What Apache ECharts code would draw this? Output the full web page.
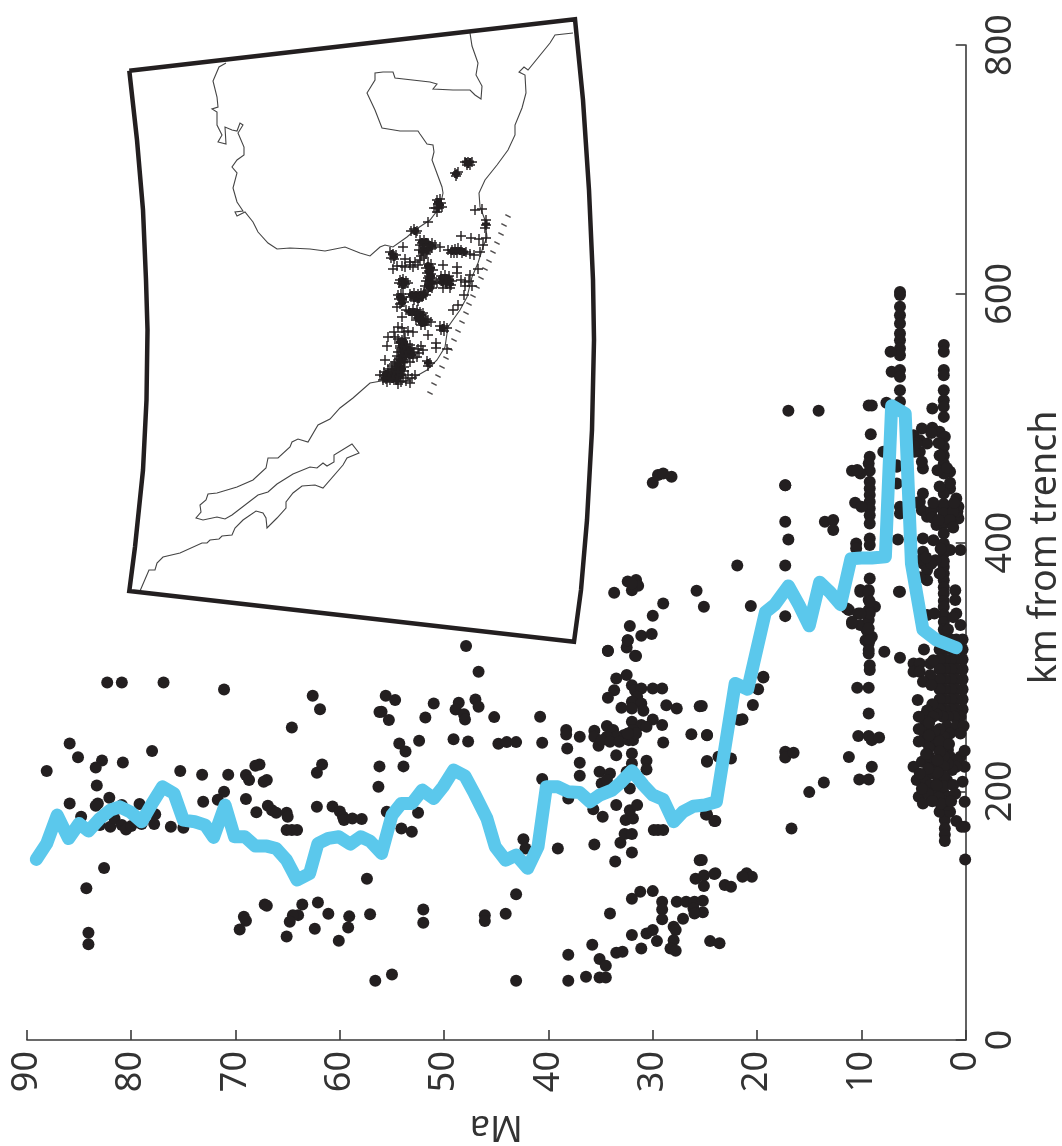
<!DOCTYPE html>
<html><head><meta charset="utf-8">
<style>html,body{margin:0;padding:0;background:#fff}#c{width:1062px;height:1146px}</style>
<script src="https://cdn.jsdelivr.net/npm/echarts@6/dist/echarts.min.js"></script>
</head><body><div id="c"></div>
<script>
// [Ma, km from trench]
const xTitle='Ma', yTitle='km from trench';
const dotsOld=[[82.3,287.5],[80.9,287.5],[76.9,287.5],[71.1,281.8],[62.6,276.8],[61.9,266],[64.6,251.3],[85.9,238.4],[85.1,227.4],[82.8,224.8],[83.4,219.1],[80.8,223.2],[78,232.3],[88.1,216.2],[75.3,216.2],[73.2,213.2],[70.7,213.2],[67.7,221.6],[68.1,220.5],[61.7,221.6],[62.2,214.9],[69,213],[68.7,209],[67,209],[67.3,207.6],[83.3,204.7],[71.1,199.6],[82.1,194.8],[71.7,193.2],[69,193.7],[85.9,190.2],[83.2,190.2],[83.4,188.3],[73.1,191.5],[79.2,189.7],[80.9,188.9],[66.9,188.3],[62.2,187.5],[60.7,187.8],[66.5,184.8],[66.1,182.7],[65.1,182.7],[65,179.5],[68,183.2],[60,183.8],[59.7,179.5],[59.6,176.8],[58.8,178.1],[57.9,177.6],[84.8,179.5],[77.7,181.6],[82,171.4],[81.6,178.1],[80.9,172.8],[80.5,169.3],[80,172],[79,173.6],[77.8,173.6],[76.2,171.4],[75,170.6],[83,172.8],[65.1,168.8],[64.6,168.8],[64.1,168.8],[82.6,138.2],[84.3,122.1],[57.4,129.6],[84.1,86.2],[84.1,76.9],[67.2,109],[67,108],[63.6,109],[62.1,110.6],[61.1,101.5],[64,100.4],[64.5,100.4],[64.8,95.1],[69.2,99.1],[69,95.9],[69.6,88.9],[59.1,99.4],[57.1,101.2],[59.2,90.5],[62.4,89.5],[65.1,83.3],[60.1,79.8],[56.6,47.6],[56.2,263.7],[56.2,220],[56.3,203.6]];
const dotsMid=[[47.9,316.7],[46.7,296],[55.6,276.8],[54.7,273.3],[56,263.9],[55.3,257.2],[51.8,259.3],[51,270.6],[48.6,271.1],[48.9,265.8],[48.1,262],[48,257.7],[47,273.8],[46.7,267.9],[45.2,259.6],[52.4,240.6],[54.3,238.4],[53.7,232],[49.1,241.9],[47.7,240],[44.8,238.2],[44,239.5],[43.1,239.5],[40.8,259.9],[40.6,239],[53.9,220],[55.5,183.5],[52.5,182.7],[54.1,170.1],[53.1,167.4],[42.4,161.5],[42.2,154],[40.6,209.8],[39.1,154],[43.1,117.1],[44.1,101.5],[46.1,100.4],[46.1,95.6],[52,105],[52,94.3],[55,52.7],[43.1,47.6],[38.1,47.6],[36.4,50.9],[35.1,50.3],[34.5,50.3],[38.1,68.5],[35.8,76.6],[35.1,65.1],[34.5,59.7],[33.5,70.2],[32.9,71],[32,84.4],[31.1,73.6],[30.6,85.7],[30,88.4],[29.6,79.5],[34.1,101.8],[32,113.6],[31.2,119.2],[30,119.7],[29.1,111.2],[29.1,105],[29.1,97],[27.7,111.2],[26.8,111.2],[26,111.2],[25.2,112],[26.1,105.8],[25.2,102.8],[26,101.8],[27.1,97.5],[28,91.1],[27.8,88.4],[28,80.3],[28.3,73.6],[27.8,71.8],[24.5,79.5],[23.6,77.7],[25.5,144.6],[25.9,129.6],[25.1,132.3],[25.1,123.8],[24.1,133.4],[23.1,124.6],[22.5,123.2],[33.6,143.6],[32,150.8],[35.6,157.2],[33.1,158.6],[32.7,165.6],[32,165.6],[29.9,168.8],[29.5,168.8],[29,168.8],[32.6,176.8],[31.9,178.1],[32.2,184.8],[31.5,188.9],[33.5,188.9],[35.7,185.6],[34.8,179.5],[38.1,194.2],[37,212.4],[37,222.9],[38.2,234.4],[38.3,249.2],[38.3,245.7],[37,243.8],[35.6,248.6],[35.6,243.8],[35.2,236.6],[34.4,252.4],[35.1,215.7],[34.9,206.3],[34.1,214.3],[34.4,209],[33.5,229],[32,230.4],[32,222.4],[30.6,224.5],[30.6,217.5],[32.5,215.7],[32.2,202.3],[29,239.2],[29.1,253.2],[30,257.7],[28.7,269.2],[27.7,266.6],[25.5,268.4],[26.3,245.9],[24.8,245.1],[24.8,223.7],[22.5,226.4],[23.7,227.7],[24.8,181.4],[24,176],[34.3,312.7],[32.5,315.6],[31.7,308.9],[32.4,321.5],[33.5,290.7],[32.5,293.4],[33.7,281.3],[34.3,275.1],[32,285.3],[31.7,281.3],[31.1,282.6],[30,282.6],[29.1,282.6],[31.5,276],[32,271.9],[31.1,270.6],[33,267.1],[32,266.6],[30.9,264.7],[32,255.9],[31.1,253.2],[30.6,251.8],[31.9,249.2],[32.8,245.1],[33.8,249.2],[33.5,243.8],[34.4,243.8],[34.9,241.1],[34.1,239.8],[33.2,239.8],[32.3,241.1],[31.9,241.1],[31.6,246.5],[32.4,246.5],[21.7,257.2]];
const dotsYoung=[[30,448],[29.5,454.2],[29,455.5],[28.2,452.8],[17.3,446.1],[17.3,416.7],[17,402.4],[21.9,381.6],[17.3,381.6],[25.8,361.2],[25.1,348.3],[20.6,348.9],[17.3,340.8],[29,351],[30,341.1],[33.7,359.6],[32.4,368.7],[31.6,369.8],[31.4,365.2],[32,361.7],[32,367],[32.2,332.8],[31.1,325],[30.1,326.4],[32.4,321.5],[34.3,312.9],[31.6,308.7],[19.4,292],[25.3,268.5],[24.8,245.2],[24.8,224.3],[21.4,257.8],[20.4,269.3],[19.9,282.1],[19.4,291.5],[24.9,181.4],[24.1,176],[25.3,144.7],[24,134],[21,134],[20.5,131.3],[21.4,131.3],[16.7,170.1],[15,199.3],[13.6,207.1],[17.3,231.7],[17.3,227.2],[16.5,231],[11.2,227.5],[9,219.7],[10.2,209.5],[9.3,209.5],[10.3,244.4],[9.3,244.4],[9,241.1],[8.3,243.3],[9.3,262.6],[10.4,283.2],[9.3,283.2],[9.2,297.4],[9.2,301.4],[7.8,312.1],[6.3,307.3],[4,314],[4.6,273.3],[17,505.9],[14.1,505.9],[17.3,446.1],[13.5,416.6],[12.7,418],[12.7,410],[11.9,350]];
const dotsColumns=[[9.3,310.8],[9.3,318.8],[9,324.2],[9.6,321.5],[9.5,329.6],[10.1,333.6],[10.9,334.9],[10.1,361.8],[6.3,360.4],[11.2,345.7],[10.9,336.3],[10.3,343],[8.7,348.4],[9.3,361.8],[9.3,353.7],[9.3,345.7],[9.3,337.6],[9.3,331],[9.2,321.6],[9.3,313.5],[6.3,601.5],[6.3,599],[6.3,589.5],[6.3,582.8],[6.3,576],[6.3,568],[6.3,562.7],[6.3,556],[6.3,550.6],[7.2,553.3],[7.1,537.2],[6.3,538.6],[6.3,533.2],[6.3,522.5],[7.6,512.3],[6.3,513.1],[2.1,558.7],[2.1,553.3],[2.1,538.6],[2.1,534.5],[2.1,522.5],[2.1,514.4],[2.1,509.1],[2.1,501],[3.2,507.7],[9.3,510.2],[9,510.2],[9.1,487.1],[4.2,491.7],[3.2,492.2],[2.5,489],[2,485],[5,486.3],[4.4,482.3],[4.4,472.9],[4.9,472.9],[3.7,479.6],[2.1,477],[2.1,470],[2.1,463.5],[1.5,456.8],[2.1,455.5],[4.1,459.5],[7.9,472.9],[6.6,462.2],[9.2,468.9],[9.3,463.5],[9.2,457.6],[10.1,455.5],[10.9,457.6],[10.4,458.2],[9.2,448.8],[9.2,443.4],[9.2,438.1],[9.2,432.7],[9.2,427.4],[9.2,422],[9.2,415.3],[9.2,403.2],[9.2,397.9],[10.6,431.9],[10,428.7],[6.6,447.5],[6.6,460.9],[6.3,428.7],[6.3,423.3],[10.5,399.2],[10.5,395.2],[6.5,402.4],[4.1,439.4],[4.4,432.7],[4.2,426],[3.7,420.7],[2.8,414],[2.8,428.7],[2.1,426],[1.5,428.7],[0.9,435.4],[0.7,428.7],[0.7,419.3],[1.5,443.4],[2.1,439.4],[2.1,431],[2.1,415],[2.1,423.3],[2.1,407.3],[2.1,399.2],[2.1,391.2],[2.1,380.5],[2.1,385],[2.1,375],[2.1,369.7],[2.1,364],[2.1,359],[2.1,353],[2.1,348.3],[2.1,342],[2.1,336],[2.1,330],[4.1,403.2],[3.1,401.9],[1.5,393.9],[0.5,393.9],[4.1,392.5],[4.1,383.1],[3.7,377.8],[3.7,369.7],[2.9,385.8],[2.5,375.1],[1,361.7],[1,353.7],[0.9,343],[9.2,371.1],[10.1,360.4],[9.3,360.4],[9.2,352.3],[9.2,343],[6.4,360.4],[11.4,347],[10.1,343],[3.7,341.7],[3,343],[0.5,333.6],[0.8,425],[1.2,425],[3.3,425],[3.2,420],[1.1,432],[4.7,432],[3.1,432],[2.6,418],[1.5,418],[1.2,412],[4.7,480],[4.2,465],[3.3,488],[5,478],[2.6,480],[2.5,470],[2.7,458],[1.8,460],[1.5,448],[2.5,445],[4.3,386],[3.3,383],[3.8,388],[4.4,372],[2.4,395],[1.7,330],[1.2,340]];
const dotsDense=[[0.3,322],[0.9,322],[1.4,322],[2,322],[2.5,322],[0.3,314],[0.9,314],[1.4,314],[2,314],[2.5,314],[0.3,306],[0.9,306],[1.4,306],[2,306],[2.5,306],[0.3,298],[0.9,298],[1.4,298],[2,298],[2.5,298],[0.3,290],[0.9,290],[1.4,290],[2,290],[2.5,290],[0.3,282],[0.9,282],[1.4,282],[2,282],[2.5,282],[0.3,274],[0.9,274],[1.4,274],[2,274],[2.5,274],[0.3,266],[0.9,266],[1.4,266],[2,266],[2.5,266],[0.5,260],[1.1,260],[1.7,260],[2.2,260],[2.8,262],[5,302.8],[4.4,302.8],[3.4,302.8],[3.1,305.4],[5,296.1],[4.4,296.1],[3.4,293.4],[4.1,288],[3.3,285.4],[3.2,270],[3.7,265],[3.9,261],[3.9,256],[3.9,250.5],[3.9,245],[3.9,240],[3.1,260],[2.8,240],[2.9,237],[1.8,252],[0.9,252],[0.2,252.4],[1.5,246.5],[0.5,246.5],[2.2,235.8],[1.7,233.1],[1.5,227.7],[0.5,227.7],[0.1,232.6],[0.1,219.7],[0.3,207.6],[0.1,191.6],[0.05,145.2],[0.9,176],[0.4,171.5],[0.1,171.5],[2,183.5],[2,176.8],[2,170],[2,165],[2,160],[2.5,183.5],[1.5,183.5],[1.8,189],[5,219.7],[4.2,223.7],[3.4,225.1],[4.7,209],[3.9,210.3],[4.5,195.6],[4.1,190.2],[3.1,221],[3.1,214.3],[2.5,218.4],[1.8,209],[2.6,209],[3,198.3],[2.1,198.3],[1.7,195.6],[0.9,225],[0.9,219.7],[1.3,217],[2.5,225.1],[1.7,222.4],[2.1,244],[2.1,236],[2.1,228],[2.1,220],[2.1,212],[2.1,204],[2.1,192],[2.5,250],[3,248],[4.5,260],[4.5,250],[4.5,240],[3.5,255],[3.5,235],[3.5,245],[3.5,228],[2.5,240],[2.5,232],[1.6,238],[2.7,225],[2.7,215],[3.6,218],[4.4,214],[3.4,205],[3.6,198],[4.2,202],[2.8,205],[2.6,195],[2.4,190],[3.2,192],[1.2,205],[1,198],[1.4,192],[3.8,230]];
const lineMean=[[89.1,145.2],[88.1,158],[87.1,180.8],[86,162],[85,174.1],[84.1,168],[83,178.1],[82,184.8],[81.1,187.5],[80.1,183.5],[79,175.5],[78,190.2],[77,203.6],[75.9,198.2],[75,176.8],[73.9,175.5],[72.9,172.8],[72.1,162.9],[71,188.9],[70.1,163.4],[69.1,163.4],[68.1,155.9],[67,155.9],[66.1,154],[65.1,144.6],[64.1,128.6],[62.9,133.9],[62.1,158],[61.1,162.1],[60.1,163.4],[59,157.5],[58,163.4],[57.1,159.9],[56,150],[55,180.8],[54.1,190.2],[53.1,190.2],[52.1,200.9],[51,194.2],[50.1,203.6],[49.1,217],[48,212.2],[47.1,198.2],[45.9,178.1],[45.1,155.4],[44.1,144.6],[43.1,148.7],[42,138],[41,155.4],[40.2,203.6],[39.1,203.6],[38.1,199.6],[37,199],[36,191.5],[35.1,196.9],[33.9,200.9],[33,207.6],[32,216.5],[30.9,204.9],[30,196.9],[29,193.4],[28,175.5],[27.1,183.5],[26.1,188],[25,188.9],[23.9,191.5],[22.1,286.7],[20.9,282],[20,315],[19.2,344],[18.3,350],[17,365],[16,350],[15,333],[14,368],[13,360],[12,350],[11,387],[10,387.5],[9,387.5],[7.7,388.5],[7.1,510],[5.8,503.7],[5.2,383],[4.1,330],[2.8,321.6],[0.9,315.4]];
const xTicks=[0,10,20,30,40,50,60,70,80,90];
const yTicks=[0,200,400,600,800];
// inset map, in map units
const mapFrame=[[129.3,70.7],[575,19.3],[583,100],[589,190],[593,280],[594,340],[592,430],[587,520],[581,590],[574,641.7],[129.3,591],[135,547],[143,470],[146.5,400],[147.5,330],[146,280],[143,210],[137,140],[129.3,70.7]];
const coastWest=[[226,63],[219,67],[213,81],[217,97],[218,107],[212,109],[217,112],[217,125],[222,135],[218,142],[226,144],[225,127],[232,130],[237,131],[240,123],[243,125],[238,133],[244,147],[244,155],[237,160],[232,167],[237,173],[233,188],[237,202],[243,211],[235,212],[237,216],[245,212],[253,222],[258,232],[268,243],[277,249],[290,248],[310,249],[325,251],[345,247],[360,253],[370,256],[380,247],[385,245],[393,247],[407,237],[415,230],[430,220],[440,207],[443,193],[442,187],[432,160],[434,152],[433,145],[427,144],[420,134],[418,131],[400,131],[388,129],[382,128],[375,110],[367,93],[375,80],[375,73],[383,72],[393,72],[395,78],[430,82],[430,84],[437,84],[433,89],[453,90],[463,90],[470,90],[475,95],[481,99],[482,86],[476,75],[478,63],[472,46],[470,33]];
const coastEast=[[573,33],[555,35],[550,43],[528,70],[524,67],[519,72],[525,75],[526,93],[522,108],[515,125],[515,135],[508,150],[497,165],[485,180],[479,193],[480,207],[485,220],[487,237],[483,247],[478,263],[472,277],[467,297],[460,310],[448,327],[445,347],[437,360],[427,370],[413,378],[403,382],[387,380],[370,383],[353,398],[340,408],[330,419],[318,425],[308,442],[298,439],[292,442],[290,447],[278,458],[268,458],[266,468],[253,480],[237,487],[217,493],[208,494],[206,500],[200,505],[201,512],[196,518],[203,520],[217,517],[225,519],[232,515],[258,495],[268,492],[277,484],[293,474],[310,467],[317,468],[323,463],[327,466],[334,462],[334,455],[352,444],[359,453],[347,458],[343,465],[323,488],[315,485],[302,486],[293,493],[286,502],[286,508],[277,518],[267,528],[266,518],[263,513],[256,511],[243,520],[235,528],[232,535],[222,536],[219,539],[210,540],[207,543],[202,543],[180,553],[163,557],[157,563],[155,570],[149,570],[140,591]];
const trench=[[508,216],[504,225],[501,234],[497,243],[493,252],[489,261],[485,269],[481,278],[477,287],[473,296],[469,304],[466,313],[462,322],[458,331],[454,340],[450,349],[446,358],[442,367],[438,376],[434,384],[430,393]];
const quakes=[[465,162],[468,162],[472,162],[467,165],[470,165],[455,173],[457,174],[458,172],[456,176],[437,200],[440,199],[441,203],[438,204],[436,208],[439,208],[442,207],[437,212],[434,208],[428,222],[414,229],[417,231],[416,233],[411,231],[475,210],[482,209],[486,220],[486,225],[485,228],[461,236],[471,238],[479,239],[486,238],[483,245],[480,252],[420,240],[424,240],[428,243],[432,243],[435,245],[420,245],[424,246],[428,248],[432,248],[419,250],[423,251],[427,252],[421,256],[424,258],[426,254],[422,243],[440,247],[403,247],[448,250],[452,250],[455,249],[458,248],[461,250],[454,253],[457,253],[462,253],[466,252],[470,254],[474,255],[451,253],[390,252],[393,254],[396,255],[391,258],[394,259],[397,266],[402,266],[405,267],[410,265],[413,267],[418,265],[410,262],[393,269],[415,262],[420,260],[405,259],[443,265],[457,267],[457,273],[478,269],[428,264],[431,264],[426,268],[430,268],[433,270],[427,273],[431,274],[428,278],[432,278],[426,281],[430,283],[434,282],[425,286],[429,287],[432,288],[429,271],[429,276],[432,284],[441,276],[445,275],[449,276],[440,280],[444,279],[448,280],[452,281],[437,283],[443,283],[447,284],[451,285],[443,288],[450,288],[461,280],[465,282],[469,281],[470,275],[472,286],[465,286],[400,280],[403,279],[406,281],[399,283],[402,284],[405,284],[408,283],[403,287],[410,294],[414,293],[418,294],[421,293],[424,292],[428,290],[411,297],[415,297],[419,298],[423,296],[414,300],[418,301],[426,295],[398,295],[401,294],[403,297],[399,299],[402,300],[404,302],[400,304],[397,307],[402,317],[464,295],[458,305],[453,310],[406,310],[409,311],[413,309],[417,310],[420,312],[423,313],[412,314],[416,315],[419,316],[423,317],[426,319],[416,320],[420,321],[424,322],[428,320],[421,325],[425,325],[431,322],[418,318],[422,320],[440,326],[444,326],[447,328],[441,330],[444,331],[402,328],[398,327],[404,332],[394,332],[408,331],[413,332],[428,335],[436,343],[436,348],[447,349],[388,337],[395,337],[387,346],[398,339],[402,340],[405,338],[399,343],[403,344],[406,344],[410,345],[400,348],[404,348],[408,349],[412,348],[418,349],[421,346],[423,350],[398,352],[402,352],[406,353],[410,353],[414,352],[419,353],[397,356],[401,357],[405,357],[409,357],[413,358],[417,357],[410,362],[400,346],[401,350],[403,354],[399,359],[403,360],[427,361],[430,363],[428,366],[385,360],[395,362],[399,363],[392,366],[396,367],[400,367],[404,367],[388,369],[392,370],[396,371],[400,371],[404,371],[384,372],[388,373],[392,374],[396,375],[400,375],[380,375],[384,376],[388,377],[392,378],[396,379],[403,378],[408,375],[412,378],[406,381],[383,380],[387,382],[401,382],[398,384],[410,383],[415,375],[394,364],[398,369],[390,372],[394,373],[398,373],[386,375],[390,376],[394,377],[386,379],[390,380]];
const quakesCore=[[466,162],[470,162],[468,164],[456,174],[438,202],[440,205],[438,208],[392,254],[394,257],[415,231],[486,224],[443,328],[428,363],[422,242],[426,242],[430,245],[424,248],[428,250],[422,252],[432,246],[452,251],[456,251],[460,251],[464,252],[428,266],[431,268],[429,272],[431,276],[429,280],[432,282],[428,285],[430,288],[442,278],[446,278],[450,280],[442,282],[446,283],[450,284],[402,281],[405,282],[403,285],[412,295],[416,295],[420,295],[424,294],[414,298],[418,299],[422,297],[400,297],[403,299],[402,303],[410,312],[414,312],[418,313],[422,315],[418,318],[422,319],[426,322],[422,323],[400,342],[404,342],[402,346],[406,347],[410,350],[404,351],[408,352],[412,355],[402,355],[406,356],[400,360],[404,362],[398,365],[402,369],[396,369],[392,372],[398,372],[386,374],[390,375],[394,376],[398,377],[385,378],[389,378],[393,379],[397,381],[402,375]];

const INK='#231f20', AX='#3a3a3a', FONT='"Noto Sans"', FS=36;
const cross='path://M4.3 0h1.4v4.3h4.3v1.4h-4.3v4.3h-1.4v-4.3h-4.3v-1.4h4.3z';
const crossHeavy='path://M3 0h4v3h3v4h-3v3h-4v-3h-3v-4h3z';
const chart=echarts.init(document.getElementById('c'),null,{renderer:'canvas'});
const dots=(d)=>({type:'scatter',xAxisIndex:0,yAxisIndex:0,data:d,symbol:'circle',symbolSize:12,clip:false,itemStyle:{color:INK,opacity:1},z:2,silent:true});
const mapLine=(d,w,c,z)=>({type:'line',xAxisIndex:1,yAxisIndex:1,data:d,showSymbol:false,symbol:'none',clip:false,smooth:false,lineStyle:{color:c,width:w,join:'miter'},z:z,silent:true});
chart.setOption({
  animation:false,backgroundColor:'#fff',tooltip:{show:false},
  grid:[
    {left:26.9,top:45,width:938.8,height:995,containLabel:false,outerBoundsMode:'none'},
    {left:120,top:10,width:480,height:640,containLabel:false,outerBoundsMode:'none'}
  ],
  xAxis:[
    {type:'value',gridIndex:0,inverse:true,min:0,max:90,interval:10,position:'bottom',
     name:xTitle,nameLocation:'middle',nameRotate:180,nameGap:68,
     nameTextStyle:{fontFamily:FONT,fontSize:FS,color:'#333'},
     axisLine:{show:true,onZero:false,lineStyle:{color:AX,width:1.6}},
     axisTick:{show:true,inside:true,length:10,lineStyle:{color:AX,width:1.6}},
     axisLabel:{show:true,rotate:90,margin:11,fontFamily:FONT,fontSize:FS,color:'#333',customValues:xTicks},
     splitLine:{show:false}},
    {type:'value',gridIndex:1,min:120,max:600,show:false}
  ],
  yAxis:[
    {type:'value',gridIndex:0,min:0,max:800,interval:200,position:'right',
     name:yTitle,nameLocation:'middle',nameRotate:90,nameGap:59,
     nameTextStyle:{fontFamily:FONT,fontSize:37.5,color:'#333',padding:[0,10,0,0]},
     axisLine:{show:true,onZero:false,lineStyle:{color:AX,width:1.6}},
     axisTick:{show:true,inside:true,length:10,lineStyle:{color:AX,width:1.6}},
     axisLabel:{show:true,rotate:90,margin:17,fontFamily:FONT,fontSize:FS,color:'#333',customValues:yTicks},
     splitLine:{show:false}},
    {type:'value',gridIndex:1,inverse:true,min:10,max:650,show:false}
  ],
  series:[
    dots(dotsOld),dots(dotsMid),dots(dotsYoung),dots(dotsColumns),dots(dotsDense),
    {type:'line',xAxisIndex:0,yAxisIndex:0,data:lineMean,showSymbol:false,symbol:'none',clip:false,
     lineStyle:{color:'#5bc8ec',width:13,cap:'round',join:'round'},z:5,silent:true},
    mapLine(coastWest,1.1,'#444',6),
    mapLine(coastEast,1.1,'#444',6),
    mapLine(mapFrame,4.5,INK,7),
    {type:'scatter',xAxisIndex:1,yAxisIndex:1,data:trench,symbol:'rect',symbolSize:[6,1.5],symbolRotate:-28,clip:false,itemStyle:{color:INK},z:6,silent:true},
    {type:'scatter',xAxisIndex:1,yAxisIndex:1,data:quakes,symbol:cross,symbolSize:10,clip:false,itemStyle:{color:INK,opacity:1},z:6,silent:true},
    {type:'scatter',xAxisIndex:1,yAxisIndex:1,data:quakesCore,symbol:crossHeavy,symbolSize:8,clip:false,itemStyle:{color:INK,opacity:1},z:6,silent:true}
  ]
});
</script></body></html>
